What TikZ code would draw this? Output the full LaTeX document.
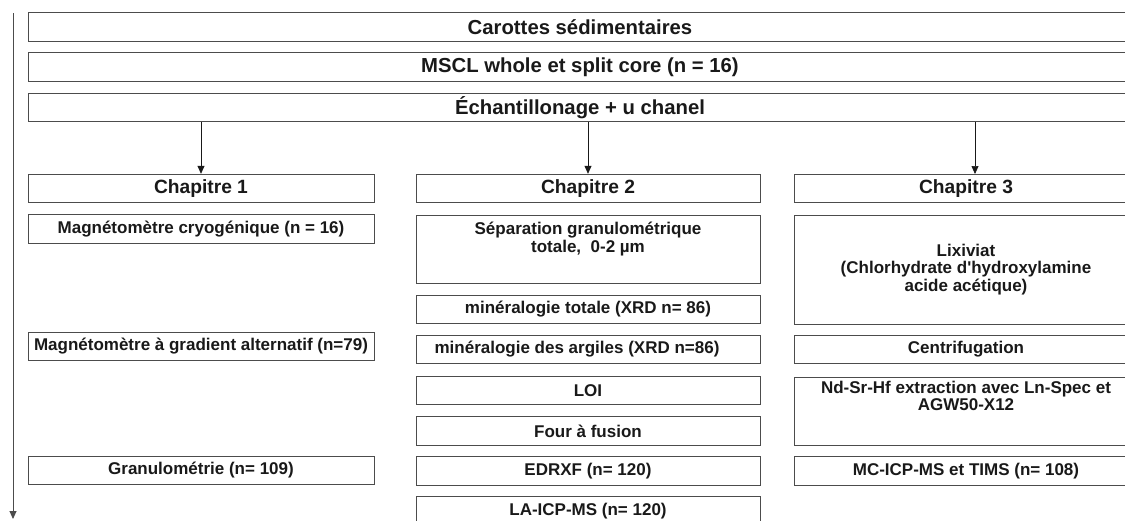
\documentclass[tikz,border=0pt]{standalone}
\usepackage{fontspec}
\setmainfont{Liberation Sans}[Ligatures=TeXOff]
\usetikzlibrary{arrows.meta, positioning}
\definecolor{mainBlack}{gray}{0.1}
\definecolor{boxGray}{gray}{0.3}

\tikzset{
    box/.style={draw=boxGray, line width=0.9pt, inner sep=0pt, align=center, text=mainBlack,
        minimum height=28.5, font=\bfseries\fontsize{17}{17.5}\selectfont},
    wide/.style={box, minimum width=1104, font=\bfseries\fontsize{20.3}{22}\selectfont},
    chap/.style={box, font=\bfseries\fontsize{19.2}{22}\selectfont},
    colA/.style={minimum width=346},
    colB/.style={minimum width=344},
    colC/.style={minimum width=344},
}

\begin{document}
\begin{tikzpicture}[x=1pt, y=-1pt, >={Triangle[length=8pt, width=7pt]}]
    \useasboundingbox (0,0) rectangle (1125,520);
    \clip (0,0) rectangle (1125,520);

    % time axis
    \coordinate (tTop) at (13,13);
    \coordinate (tEnd) at (13,519);
    \draw[->, boxGray, line width=0.9pt] (tTop) -- (tEnd);

    % common steps
    \node[wide] (cores) at (580,27) {Carottes sédimentaires};
    \node[wide] (mscl)  at (580,67) {MSCL whole et split core (n = 16)};
    \node[wide] (ech)   at (580,107.5) {Échantillonage + u chanel};

    % chapters
    \node[chap, colA] (chA) at (201,188.5) {Chapitre 1};
    \node[chap, colB] (chB) at (588,188.5) {Chapitre 2};
    \node[chap, colC] (chC) at (966,188.5) {Chapitre 3};

    % arrow ends on the chapter boxes
    \coordinate (inA) at (chA.north);
    \coordinate (inB) at (chB.north);
    \coordinate (inC) at (975,174);
    \foreach \c in {inA, inB, inC}
        \draw[->, mainBlack, line width=0.7pt] (ech.south -| \c) -- (\c);

    % Chapitre 1
    \node[box, colA] (cryo) at (201,229) {Magnétomètre cryogénique (n = 16)};
    \node[box, colA] (agm)  at (201,346.5) {Magnétomètre à gradient alternatif (n=79)};
    \node[box, colA] (gran) at (201,470.5) {Granulométrie (n= 109)};

    % Chapitre 2
    \node[box, colB, minimum height=68] (sep) at (588,249)
        {Séparation granulométrique\\totale,\ \ 0-2 µm\\[6pt]\mbox{}};
    \node[box, colB] (minT) at (588,309.5) {minéralogie totale (XRD n= 86)};
    \node[box, colB] (minA) at (588,349.5) {minéralogie des argiles (XRD n=86)\hspace*{22pt}};
    \node[box, colB] (loi)  at (588,390.5) {LOI};
    \node[box, colB] (four) at (588,431) {Four à fusion};
    \node[box, colB] (xrf)  at (588,471) {EDRXF (n= 120)};
    \node[box, colB] (laicp) at (588,511) {LA-ICP-MS (n= 120)};

    % Chapitre 3
    \node[box, colC, minimum height=109] (lix) at (966,269.5)
        {Lixiviat\\(Chlorhydrate d'hydroxylamine\\acide acétique)};
    \node[box, colC] (centri) at (966,349.5) {Centrifugation};
    \node[box, colC, minimum height=68] (extr) at (966,411)
        {Nd-Sr-Hf extraction avec Ln-Spec et\\AGW50-X12\\[12.5pt]\mbox{}};
    \node[box, colC] (mcicp) at (966,471) {MC-ICP-MS et TIMS (n= 108)};
\end{tikzpicture}
\end{document}
